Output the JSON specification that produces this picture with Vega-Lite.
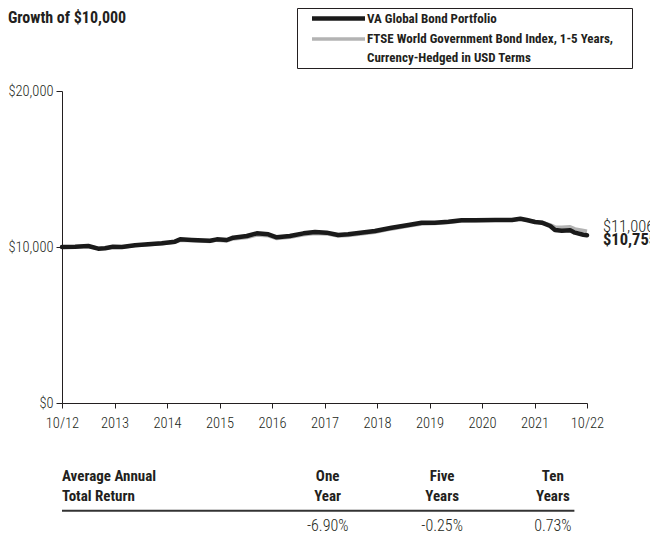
{
  "$schema": "https://vega.github.io/schema/vega-lite/v6.json",
  "padding": {"left": 7, "right": 0, "top": 7, "bottom": 2},
  "background": "white",
  "title": {
    "text": "Growth of $10,000",
    "anchor": "start",
    "frame": "bounds",
    "offset": -18,
    "font": "Roboto Condensed",
    "fontSize": 16,
    "fontWeight": "bold",
    "color": "#231f20"
  },
  "config": {
    "view": {"stroke": null},
    "font": "Roboto Condensed",
    "style": {"guide-label": {"lineHeight": 19}},
    "axis": {
      "labelFont": "Roboto Condensed",
      "labelFontWeight": 300,
      "labelFontSize": 14.5,
      "labelColor": "#231f20",
      "domainColor": "#231f20",
      "tickColor": "#231f20",
      "grid": false,
      "title": null
    },
    "legend": {
      "orient": "none",
      "legendX": 235,
      "legendY": -83,
      "direction": "vertical",
      "strokeColor": "#231f20",
      "fillColor": "white",
      "padding": 3,
      "symbolOffset": 31,
      "symbolType": "M-5.3,0L5.3,0",
      "symbolSize": 100,
      "labelFont": "Roboto Condensed",
      "labelFontSize": 13,
      "labelFontWeight": "bold",
      "labelColor": "#231f20",
      "labelLimit": 500,
      "labelOffset": 21,
      "rowPadding": 4,
      "titleOrient": "right",
      "titleColor": "white",
      "titleFontSize": 13,
      "titlePadding": 12
    }
  },
  "datasets": {
    "growth": [
      {"t": 0, "v": 10000, "s": "FTSE"},
      {"t": 0.25, "v": 10010, "s": "FTSE"},
      {"t": 0.5, "v": 10050, "s": "FTSE"},
      {"t": 0.69, "v": 9900, "s": "FTSE"},
      {"t": 0.82, "v": 9920, "s": "FTSE"},
      {"t": 0.97, "v": 10000, "s": "FTSE"},
      {"t": 1.14, "v": 9990, "s": "FTSE"},
      {"t": 1.39, "v": 10090, "s": "FTSE"},
      {"t": 1.64, "v": 10150, "s": "FTSE"},
      {"t": 1.9, "v": 10210, "s": "FTSE"},
      {"t": 2.15, "v": 10300, "s": "FTSE"},
      {"t": 2.25, "v": 10440, "s": "FTSE"},
      {"t": 2.47, "v": 10410, "s": "FTSE"},
      {"t": 2.82, "v": 10360, "s": "FTSE"},
      {"t": 2.95, "v": 10440, "s": "FTSE"},
      {"t": 3.14, "v": 10390, "s": "FTSE"},
      {"t": 3.26, "v": 10520, "s": "FTSE"},
      {"t": 3.52, "v": 10610, "s": "FTSE"},
      {"t": 3.71, "v": 10770, "s": "FTSE"},
      {"t": 3.93, "v": 10720, "s": "FTSE"},
      {"t": 4.09, "v": 10540, "s": "FTSE"},
      {"t": 4.34, "v": 10620, "s": "FTSE"},
      {"t": 4.6, "v": 10790, "s": "FTSE"},
      {"t": 4.82, "v": 10870, "s": "FTSE"},
      {"t": 5.04, "v": 10840, "s": "FTSE"},
      {"t": 5.26, "v": 10700, "s": "FTSE"},
      {"t": 5.45, "v": 10740, "s": "FTSE"},
      {"t": 5.96, "v": 10950, "s": "FTSE"},
      {"t": 6.28, "v": 11160, "s": "FTSE"},
      {"t": 6.6, "v": 11340, "s": "FTSE"},
      {"t": 6.85, "v": 11480, "s": "FTSE"},
      {"t": 7.1, "v": 11500, "s": "FTSE"},
      {"t": 7.36, "v": 11570, "s": "FTSE"},
      {"t": 7.61, "v": 11670, "s": "FTSE"},
      {"t": 7.87, "v": 11690, "s": "FTSE"},
      {"t": 8.25, "v": 11720, "s": "FTSE"},
      {"t": 8.57, "v": 11730, "s": "FTSE"},
      {"t": 8.73, "v": 11800, "s": "FTSE"},
      {"t": 8.85, "v": 11740, "s": "FTSE"},
      {"t": 9.01, "v": 11640, "s": "FTSE"},
      {"t": 9.14, "v": 11600, "s": "FTSE"},
      {"t": 9.3, "v": 11420, "s": "FTSE"},
      {"t": 9.39, "v": 11290, "s": "FTSE"},
      {"t": 9.52, "v": 11260, "s": "FTSE"},
      {"t": 9.68, "v": 11300, "s": "FTSE"},
      {"t": 9.77, "v": 11160, "s": "FTSE"},
      {"t": 9.93, "v": 11060, "s": "FTSE"},
      {"t": 10, "v": 11006, "s": "FTSE"},
      {"t": 0, "v": 10000, "s": "VA Global Bond Portfolio"},
      {"t": 0.25, "v": 10019, "s": "VA Global Bond Portfolio"},
      {"t": 0.5, "v": 10064, "s": "VA Global Bond Portfolio"},
      {"t": 0.69, "v": 9891, "s": "VA Global Bond Portfolio"},
      {"t": 0.82, "v": 9917, "s": "VA Global Bond Portfolio"},
      {"t": 0.97, "v": 10019, "s": "VA Global Bond Portfolio"},
      {"t": 1.14, "v": 10000, "s": "VA Global Bond Portfolio"},
      {"t": 1.39, "v": 10107, "s": "VA Global Bond Portfolio"},
      {"t": 1.64, "v": 10171, "s": "VA Global Bond Portfolio"},
      {"t": 1.9, "v": 10235, "s": "VA Global Bond Portfolio"},
      {"t": 2.15, "v": 10342, "s": "VA Global Bond Portfolio"},
      {"t": 2.25, "v": 10491, "s": "VA Global Bond Portfolio"},
      {"t": 2.47, "v": 10449, "s": "VA Global Bond Portfolio"},
      {"t": 2.82, "v": 10404, "s": "VA Global Bond Portfolio"},
      {"t": 2.95, "v": 10491, "s": "VA Global Bond Portfolio"},
      {"t": 3.14, "v": 10449, "s": "VA Global Bond Portfolio"},
      {"t": 3.26, "v": 10596, "s": "VA Global Bond Portfolio"},
      {"t": 3.52, "v": 10705, "s": "VA Global Bond Portfolio"},
      {"t": 3.71, "v": 10876, "s": "VA Global Bond Portfolio"},
      {"t": 3.93, "v": 10812, "s": "VA Global Bond Portfolio"},
      {"t": 4.09, "v": 10620, "s": "VA Global Bond Portfolio"},
      {"t": 4.34, "v": 10705, "s": "VA Global Bond Portfolio"},
      {"t": 4.6, "v": 10876, "s": "VA Global Bond Portfolio"},
      {"t": 4.82, "v": 10962, "s": "VA Global Bond Portfolio"},
      {"t": 5.04, "v": 10919, "s": "VA Global Bond Portfolio"},
      {"t": 5.26, "v": 10769, "s": "VA Global Bond Portfolio"},
      {"t": 5.45, "v": 10812, "s": "VA Global Bond Portfolio"},
      {"t": 5.96, "v": 11026, "s": "VA Global Bond Portfolio"},
      {"t": 6.28, "v": 11237, "s": "VA Global Bond Portfolio"},
      {"t": 6.6, "v": 11410, "s": "VA Global Bond Portfolio"},
      {"t": 6.85, "v": 11558, "s": "VA Global Bond Portfolio"},
      {"t": 7.1, "v": 11558, "s": "VA Global Bond Portfolio"},
      {"t": 7.36, "v": 11622, "s": "VA Global Bond Portfolio"},
      {"t": 7.61, "v": 11712, "s": "VA Global Bond Portfolio"},
      {"t": 7.87, "v": 11712, "s": "VA Global Bond Portfolio"},
      {"t": 8.25, "v": 11731, "s": "VA Global Bond Portfolio"},
      {"t": 8.57, "v": 11731, "s": "VA Global Bond Portfolio"},
      {"t": 8.73, "v": 11814, "s": "VA Global Bond Portfolio"},
      {"t": 8.85, "v": 11731, "s": "VA Global Bond Portfolio"},
      {"t": 9.01, "v": 11603, "s": "VA Global Bond Portfolio"},
      {"t": 9.14, "v": 11558, "s": "VA Global Bond Portfolio"},
      {"t": 9.3, "v": 11346, "s": "VA Global Bond Portfolio"},
      {"t": 9.39, "v": 11090, "s": "VA Global Bond Portfolio"},
      {"t": 9.52, "v": 11045, "s": "VA Global Bond Portfolio"},
      {"t": 9.68, "v": 11071, "s": "VA Global Bond Portfolio"},
      {"t": 9.77, "v": 10919, "s": "VA Global Bond Portfolio"},
      {"t": 9.93, "v": 10788, "s": "VA Global Bond Portfolio"},
      {"t": 10, "v": 10755, "s": "VA Global Bond Portfolio"}
    ],
    "ends": [
      {"t": 10, "v": 11006, "s": "FTSE"},
      {"t": 10, "v": 10755, "s": "VA Global Bond Portfolio"}
    ],
    "table": [
      {"x": 0, "r": 0, "txt": "Average Annual", "k": "left"},
      {"x": 0, "r": 1, "txt": "Total Return", "k": "left"},
      {"x": 5.06, "r": 0, "txt": "One", "k": "head"},
      {"x": 5.06, "r": 1, "txt": "Year", "k": "head"},
      {"x": 7.24, "r": 0, "txt": "Five", "k": "head"},
      {"x": 7.24, "r": 1, "txt": "Years", "k": "head"},
      {"x": 9.35, "r": 0, "txt": "Ten", "k": "head"},
      {"x": 9.35, "r": 1, "txt": "Years", "k": "head"},
      {"x": 5.06, "r": 2.52, "txt": "-6.90%", "k": "val"},
      {"x": 7.24, "r": 2.52, "txt": "-0.25%", "k": "val"},
      {"x": 9.35, "r": 2.52, "txt": "0.73%", "k": "val"}
    ],
    "tableRule": [
      {"x": 0, "x2": 9.76, "r": 1.74}
    ]
  },
  "spacing": 36,
  "vconcat": [
    {
      "width": 525,
      "height": 312,
      "encoding": {
        "x": {
          "field": "t",
          "type": "quantitative",
          "scale": {"domain": [0, 10], "nice": false, "zero": false},
          "axis": {
            "values": [0, 1, 2, 3, 4, 5, 6, 7, 8, 9, 10],
            "labelExpr": "datum.value == 0 ? '10/12' : datum.value == 10 ? '10/22' : '' + (2012 + datum.value)",
            "tickSize": 5,
            "labelPadding": 8,
            "labelFlush": false,
            "labelOverlap": false
          }
        },
        "y": {
          "field": "v",
          "type": "quantitative",
          "scale": {"domain": [0, 20000], "nice": false},
          "axis": {
            "values": [0, 10000, 20000],
            "format": "$,.0f",
            "tickSize": 6,
            "labelPadding": 3
          }
        }
      },
      "layer": [
        {
          "data": {"name": "growth"},
          "transform": [{"filter": "datum.s != 'VA Global Bond Portfolio'"}],
          "mark": {"type": "line", "strokeJoin": "round", "strokeCap": "butt"},
          "encoding": {
            "color": {
              "field": "s",
              "type": "nominal",
              "scale": {
                "domain": ["VA Global Bond Portfolio", "FTSE"],
                "range": ["#1a1a1a", "#b3b3b3"]
              },
              "legend": {
                "title": ".",
                "labelExpr": "datum.value == 'VA Global Bond Portfolio' ? datum.label : ['FTSE World Government Bond Index, 1-5 Years,', 'Currency-Hedged in USD Terms']"
              }
            },
            "strokeWidth": {
              "field": "s",
              "type": "nominal",
              "scale": {
                "domain": ["VA Global Bond Portfolio", "FTSE"],
                "range": [4.5, 3.5]
              },
              "legend": {
                "title": ".",
                "labelExpr": "datum.value == 'VA Global Bond Portfolio' ? datum.label : ['FTSE World Government Bond Index, 1-5 Years,', 'Currency-Hedged in USD Terms']"
              }
            }
          }
        },
        {
          "data": {"name": "growth"},
          "transform": [{"filter": "datum.s == 'VA Global Bond Portfolio'"}],
          "mark": {"type": "line", "strokeJoin": "round", "strokeCap": "round"},
          "encoding": {
            "color": {"field": "s", "type": "nominal"},
            "strokeWidth": {"field": "s", "type": "nominal"}
          }
        },
        {
          "data": {"name": "ends"},
          "transform": [{"filter": "datum.s != 'VA Global Bond Portfolio'"}],
          "mark": {"type": "text", "align": "left", "baseline": "middle", "dx": 16, "dy": -4, "fontSize": 16.5, "fontWeight": 300, "color": "#231f20"},
          "encoding": {
            "text": {"field": "v", "type": "quantitative", "format": "$,.0f"}
          }
        },
        {
          "data": {"name": "ends"},
          "transform": [{"filter": "datum.s == 'VA Global Bond Portfolio'"}],
          "mark": {"type": "text", "align": "left", "baseline": "middle", "dx": 16, "dy": 5, "fontSize": 16.5, "fontWeight": "bold", "color": "#231f20"},
          "encoding": {
            "text": {"field": "v", "type": "quantitative", "format": "$,.0f"}
          }
        }
      ]
    },
    {
      "width": 525,
      "height": 66,
      "encoding": {
        "x": {"field": "x", "type": "quantitative", "scale": {"domain": [0, 10], "nice": false, "zero": false}, "axis": null},
        "y": {"field": "r", "type": "quantitative", "scale": {"domain": [-0.5, 2.8], "reverse": true, "nice": false, "zero": false}, "axis": null}
      },
      "layer": [
        {
          "data": {"name": "tableRule"},
          "mark": {"type": "rule", "color": "#333333", "strokeWidth": 2},
          "encoding": {"x2": {"field": "x2"}}
        },
        {
          "data": {"name": "table"},
          "transform": [{"filter": "datum.k == 'left'"}],
          "mark": {"type": "text", "align": "left", "baseline": "middle", "fontSize": 15, "fontWeight": "bold", "color": "#231f20"},
          "encoding": {"text": {"field": "txt"}}
        },
        {
          "data": {"name": "table"},
          "transform": [{"filter": "datum.k == 'head'"}],
          "mark": {"type": "text", "align": "center", "baseline": "middle", "fontSize": 15, "fontWeight": "bold", "color": "#231f20"},
          "encoding": {"text": {"field": "txt"}}
        },
        {
          "data": {"name": "table"},
          "transform": [{"filter": "datum.k == 'val'"}],
          "mark": {"type": "text", "align": "center", "baseline": "middle", "fontSize": 16, "fontWeight": 300, "color": "#231f20"},
          "encoding": {"text": {"field": "txt"}}
        }
      ]
    }
  ]
}
